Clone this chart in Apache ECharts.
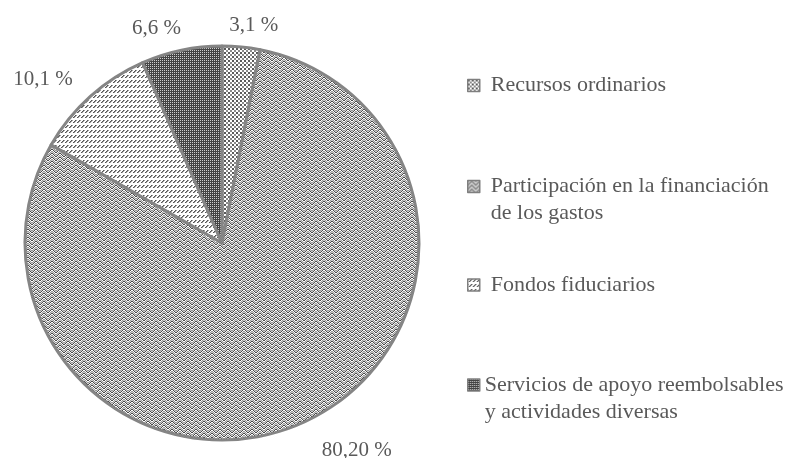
<!DOCTYPE html>
<html>
<head>
<meta charset="utf-8">
<script src="https://cdn.jsdelivr.net/npm/echarts@6/dist/echarts.min.js"></script>
<style>
html,body{margin:0;padding:0;background:#fff;}
#chart{width:792px;height:458px;}
</style>
</head>
<body>
<div id="chart"></div>
<script>
// ---- data ----
const categories = ['Recursos ordinarios', 'Participación en la financiación\nde los gastos', 'Fondos fiduciarios', 'Servicios de apoyo reembolsables\ny actividades diversas'];
const values = [3.1, 80.2, 10.1, 6.6];
const valueLabels = ['3,1 %', '80,20 %', '10,1 %', '6,6 %'];

// ---- style: small label nudges (pixels) to mimic the original label placement ----
const labelNudge = [[-19, 0], [4, 8], [2, -1], [9, 0]];

// ---- pattern tiles ----
function makeTile(w, h, fn, bg) {
  const c = document.createElement('canvas');
  c.width = w; c.height = h;
  const ctx = c.getContext('2d');
  ctx.fillStyle = bg; ctx.fillRect(0, 0, w, h);
  for (let y = 0; y < h; y++) for (let x = 0; x < w; x++) {
    const col = fn(x, y);
    if (col) { ctx.fillStyle = col; ctx.fillRect(x, y, 1, 1); }
  }
  return c;
}
// dotted (Recursos ordinarios)
const tDots = makeTile(4, 4, (x, y) => {
  if ((y < 2) && (x < 2)) return '#5a5a5a';
  if ((y >= 2) && (x >= 2)) return '#8a8a8a';
  return null;
}, '#ffffff');
// herringbone (Participación)
const tHerring = makeTile(8, 8, (x, y) => {
  const d = x < 4 ? (x + y) % 4 : (7 - x + y) % 4;
  if (d === 0) return '#4a4a4a';
  if (d === 2) return '#999999';
  if (d === 3) return '#cfcfcf';
  return null;
}, '#ffffff');
// diagonal dashes (Fondos fiduciarios)
const tHatch = makeTile(4, 5, (x, y) => {
  if (y < 3 && x === 2 - y + 1) return '#555555';
  if (y < 3 && x === (2 - y + 2) % 4) return '#9a9a9a';
  return null;
}, '#ffffff');
// dark with white dots (Servicios)
const tDark = makeTile(4, 4, (x, y) => {
  if (x % 2 === 0 && y % 2 === 0) return '#d0d0d0';
  return null;
}, '#444444');

const tiles = [tDots, tHerring, tHatch, tDark];

const seriesData = categories.map((name, i) => ({
  name: name,
  value: values[i],
  label: { formatter: valueLabels[i] },
  itemStyle: { color: { image: tiles[i], repeat: 'repeat' } }
}));

const legendTops = [85.5, 186.5, 285, 385];
const legends = categories.map((name, i) => {
  const twoLine = name.indexOf('\n') >= 0;
  return {
    data: [name],
    left: 467,
    top: twoLine ? legendTops[i] - 40.5 : legendTops[i] - 13.5,
    padding: 0,
    orient: 'vertical',
    selectedMode: false,
    icon: 'rect',
    itemWidth: 12,
    itemHeight: 12,
    formatter: n => (n.indexOf('\n') >= 0 ? '\n' + n : n),
    itemStyle: { borderColor: '#7f7f7f', borderWidth: 1.5 },
    textStyle: {
      fontFamily: 'Liberation Serif',
      fontSize: 22,
      color: '#595959',
      lineHeight: 27,
      padding: [0, 0, 0, i === 3 ? 0 : 6]
    }
  };
});

const chart = echarts.init(document.getElementById('chart'), null, { renderer: 'canvas' });
chart.setOption({
  animation: false,
  backgroundColor: '#ffffff',
  legend: legends,
  series: [{
    type: 'pie',
    center: [222, 243],
    radius: 197,
    startAngle: 90,
    clockwise: true,
    avoidLabelOverlap: false,
    itemStyle: { borderColor: '#858585', borderWidth: 3 },
    label: {
      show: true,
      position: 'outside',
      fontFamily: 'Liberation Serif',
      fontSize: 21,
      color: '#595959'
    },
    labelLine: { show: false, length: 22, length2: 0 },
    labelLayout: p => ({ dx: labelNudge[p.dataIndex][0], dy: labelNudge[p.dataIndex][1] }),
    emphasis: { disabled: true },
    data: seriesData
  }]
});
</script>
</body>
</html>
